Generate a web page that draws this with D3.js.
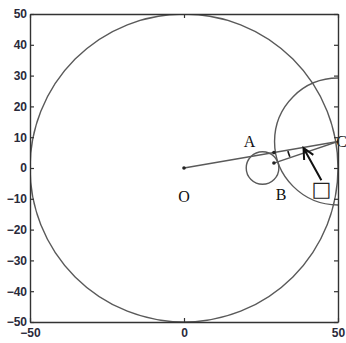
<!DOCTYPE html>
<html><head><meta charset="utf-8">
<script src="https://cdn.jsdelivr.net/npm/d3@7"></script>
<style>body{margin:0;background:#fff}svg{display:block}</style>
</head><body>
<script>
const xTicks = [-50, 0, 50];
const yTicks = [50, 40, 30, 20, 10, 0, -10, -20, -30, -40, -50];
const circles = [
  {cx: 0, cy: 0, r: 50},
  {cx: 25.5, cy: 0, r: 5.3},
  {cx: 50, cy: 8.6, r: 20.6}
];
const segments = [
  {x1: 0, y1: 0, x2: 50, y2: 8.6},
  {x1: 29.2, y1: 1.6, x2: 50, y2: 8.6}
];
const points = [
  {x: 0, y: 0},
  {x: 29.2, y: 5.0},
  {x: 29.2, y: 1.6}
];
const labels = [
  {t: "A", x: 21.3, y: 6.8},
  {t: "O", x: 0, y: -11.2},
  {t: "B", x: 31.5, y: -10.5},
  {t: "C", x: 51.2, y: 6.8}
];
const arrow = {x1: 44.6, y1: -4.0, x2: 38.8, y2: 6.5};
const boxLabel = {t: "□", x: 44.6, y: -9.2};

const W = 346, H = 343;
const m = {l: 30, r: 8, t: 14, b: 21};
const svg = d3.select("body").append("svg").attr("width", W).attr("height", H);
const x = d3.scaleLinear().domain([-50, 50]).range([m.l, W - m.r]);
const y = d3.scaleLinear().domain([-50, 50]).range([H - m.b, m.t]);

svg.append("defs").append("clipPath").attr("id", "clip")
  .append("rect").attr("x", m.l).attr("y", m.t)
  .attr("width", W - m.r - m.l).attr("height", H - m.b - m.t);

const g = svg.append("g").attr("clip-path", "url(#clip)");
const sx = x(1) - x(0);

g.selectAll("circle.c").data(circles).join("circle")
  .attr("cx", d => x(d.cx)).attr("cy", d => y(d.cy)).attr("r", d => d.r * sx)
  .attr("fill", "none").attr("stroke", "#5a5a5a").attr("stroke-width", 1.4);

g.selectAll("line.s").data(segments).join("line")
  .attr("x1", d => x(d.x1)).attr("y1", d => y(d.y1))
  .attr("x2", d => x(d.x2)).attr("y2", d => y(d.y2))
  .attr("stroke", "#5a5a5a").attr("stroke-width", 1.4);

g.selectAll("circle.p").data(points).join("circle")
  .attr("cx", d => x(d.x)).attr("cy", d => y(d.y)).attr("r", 1.8).attr("fill", "#222");

// angle mark near A centred at C
const C = segments[0];
const a1 = Math.atan2(segments[0].y1 - C.y2, segments[0].x1 - C.x2);
const a2 = Math.atan2(segments[1].y1 - C.y2, segments[1].x1 - C.x2);
const rr = 16.5 * sx;
const pA = [x(C.x2) + rr * Math.cos(-a1), y(C.y2) + rr * Math.sin(-a1)];
const pB = [x(C.x2) + rr * Math.cos(-a2), y(C.y2) + rr * Math.sin(-a2)];
svg.append("path")
  .attr("d", `M${pA[0]},${pA[1]+1} A${rr},${rr} 0 0 0 ${pB[0]},${pB[1]-1}`)
  .attr("fill", "none").attr("stroke", "#111").attr("stroke-width", 1.7);

// arrow
const ax1 = x(arrow.x1), ay1 = y(arrow.y1), ax2 = x(arrow.x2), ay2 = y(arrow.y2);
const ang = Math.atan2(ay2 - ay1, ax2 - ax1), hl = 12, ha = 0.45;
svg.append("path")
  .attr("d", `M${ax1},${ay1}L${ax2},${ay2}M${ax2 - hl*Math.cos(ang-ha)},${ay2 - hl*Math.sin(ang-ha)}L${ax2},${ay2}L${ax2 - hl*Math.cos(ang+ha)},${ay2 - hl*Math.sin(ang+ha)}`)
  .attr("fill", "none").attr("stroke", "#111").attr("stroke-width", 2);

svg.append("text").attr("x", x(boxLabel.x)).attr("y", y(boxLabel.y))
  .attr("text-anchor", "middle").attr("font-family", "DejaVu Sans").attr("font-size", 21)
  .attr("fill", "#222").text(boxLabel.t);

svg.selectAll("text.lab").data(labels).join("text")
  .attr("x", d => x(d.x)).attr("y", d => y(d.y))
  .attr("text-anchor", "middle").attr("font-family", "Liberation Serif")
  .attr("font-size", 16).attr("fill", "#111").text(d => d.t);

// axes
function style(sel) {
  sel.select(".domain").attr("stroke", "#333").attr("stroke-width", 1.4);
  sel.selectAll(".tick line").attr("stroke", "#333").attr("stroke-width", 1.2);
  sel.selectAll(".tick text").attr("font-family", "Liberation Sans").attr("font-size", 12)
    .attr("font-weight", "bold").attr("fill", "#2a2a3a");
}
svg.append("g").attr("transform", `translate(${m.l},0)`)
  .call(d3.axisLeft(y).tickValues(yTicks).tickSize(-4).tickSizeOuter(0).tickPadding(3).tickFormat(d3.format("d"))).call(style);
svg.append("g").attr("transform", `translate(${W - m.r},0)`)
  .call(d3.axisRight(y).tickValues(yTicks).tickSize(-4).tickSizeOuter(0).tickFormat("")).call(style);
svg.append("g").attr("transform", `translate(0,${H - m.b})`)
  .call(d3.axisBottom(x).tickValues(xTicks).tickSize(-4).tickSizeOuter(0).tickPadding(6).tickFormat(d3.format("d"))).call(style);
svg.append("g").attr("transform", `translate(0,${m.t})`)
  .call(d3.axisTop(x).tickValues(xTicks).tickSize(-4).tickSizeOuter(0).tickFormat("")).call(style);
</script>
</body></html>
